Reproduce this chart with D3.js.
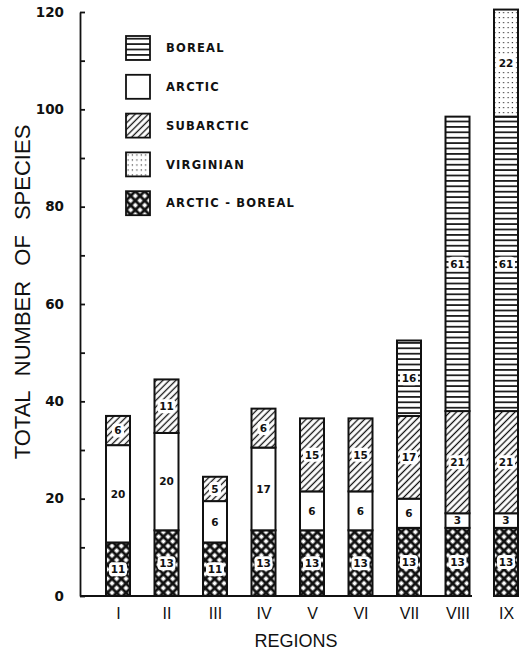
<!DOCTYPE html>
<html>
<head>
<meta charset="utf-8">
<script src="https://cdn.jsdelivr.net/npm/d3@7"></script>
<style>
  body { margin: 0; background: #fff; }
  svg { display: block; }
  .axis text { font-family: 'DejaVu Sans', sans-serif; font-weight: bold; font-size: 13.5px; fill: #111; }
  .axis--x text { font-family: 'Liberation Sans', Arial, sans-serif; font-weight: normal; font-size: 16px; }
  .seg-label { font-family: 'DejaVu Sans', sans-serif; font-weight: bold; font-size: 10.5px; fill: #111; }
  .legend text { font-family: 'DejaVu Sans', sans-serif; font-weight: bold; font-size: 11.5px; letter-spacing: 1.2px; fill: #111; }
</style>
</head>
<body>
<div id="chart"></div>
<script>
// regions along the coast
var regions = ['I', 'II', 'III', 'IV', 'V', 'VI', 'VII', 'VIII', 'IX'];

// segment heights as drawn (bottom to top)
var arcticBoreal = [11, 13.5, 11, 13.5, 13.5, 13.5, 14, 14, 14];
var arctic = [20, 20, 8.5, 17, 8, 8, 6, 3, 3];
var subarctic = [6, 11, 5, 8, 15, 15, 17, 21, 21];
var boreal = [0, 0, 0, 0, 0, 0, 15.5, 60.5, 60.5];
var virginian = [0, 0, 0, 0, 0, 0, 0, 0, 22];

// numbers printed inside the segments
var arcticBorealLabels = [11, 13, 11, 13, 13, 13, 13, 13, 13];
var arcticLabels = [20, 20, 6, 17, 6, 6, 6, 3, 3];
var subarcticLabels = [6, 11, 5, 6, 15, 15, 17, 21, 21];
var borealLabels = [null, null, null, null, null, null, 16, 61, 61];
var virginianLabels = [null, null, null, null, null, null, null, null, 22];

var yTicks = [0, 10, 20, 30, 40, 50, 60, 70, 80, 90, 100, 110, 120];

var keys = ['arcticBoreal', 'arctic', 'subarctic', 'boreal', 'virginian'];
var legendKeys = ['boreal', 'arctic', 'subarctic', 'virginian', 'arcticBoreal'];
var legendNames = {
  boreal: 'BOREAL',
  arctic: 'ARCTIC',
  subarctic: 'SUBARCTIC',
  virginian: 'VIRGINIAN',
  arcticBoreal: 'ARCTIC - BOREAL'
};
var labelsByKey = {
  arcticBoreal: arcticBorealLabels,
  arctic: arcticLabels,
  subarctic: subarcticLabels,
  boreal: borealLabels,
  virginian: virginianLabels
};

var table = regions.map(function (r, i) {
  return {
    region: r,
    arcticBoreal: arcticBoreal[i],
    arctic: arctic[i],
    subarctic: subarctic[i],
    boreal: boreal[i],
    virginian: virginian[i]
  };
});

var svgWidth = 519;
var svgHeight = 660;
var barWidth = 24;

var svg = d3.select('#chart').append('svg')
  .attr('width', svgWidth)
  .attr('height', svgHeight);

// fill patterns
var defs = svg.append('defs');

var pBoreal = defs.append('pattern')
  .attr('id', 'p-boreal')
  .attr('patternUnits', 'userSpaceOnUse')
  .attr('width', 10)
  .attr('height', 5.4);
pBoreal.append('rect').attr('width', 10).attr('height', 5.4).attr('fill', '#fff');
pBoreal.append('line')
  .attr('x1', 0).attr('x2', 10).attr('y1', 2.7).attr('y2', 2.7)
  .attr('stroke', '#111').attr('stroke-width', 1.7);

var pSub = defs.append('pattern')
  .attr('id', 'p-subarctic')
  .attr('patternUnits', 'userSpaceOnUse')
  .attr('width', 4.6)
  .attr('height', 10)
  .attr('patternTransform', 'rotate(45)');
pSub.append('rect').attr('width', 4.6).attr('height', 10).attr('fill', '#fff');
pSub.append('line')
  .attr('x1', 2.3).attr('x2', 2.3).attr('y1', 0).attr('y2', 10)
  .attr('stroke', '#111').attr('stroke-width', 1.3);

var pVirg = defs.append('pattern')
  .attr('id', 'p-virginian')
  .attr('patternUnits', 'userSpaceOnUse')
  .attr('width', 4.4)
  .attr('height', 5);
pVirg.append('rect').attr('width', 4.4).attr('height', 5).attr('fill', '#fff');
pVirg.append('rect')
  .attr('x', 1.5).attr('y', 2).attr('width', 1.2).attr('height', 1.2)
  .attr('fill', '#333');

var pAB = defs.append('pattern')
  .attr('id', 'p-arcticBoreal')
  .attr('patternUnits', 'userSpaceOnUse')
  .attr('width', 6.6)
  .attr('height', 6.6)
  .attr('patternTransform', 'rotate(45)');
pAB.append('rect').attr('width', 6.6).attr('height', 6.6).attr('fill', '#fff');
pAB.append('path')
  .attr('d', 'M0,0H6.6M0,6.6H6.6M0,0V6.6M6.6,0V6.6')
  .attr('stroke', '#111').attr('stroke-width', 2.8);

var fills = {
  boreal: 'url(#p-boreal)',
  arctic: '#fff',
  subarctic: 'url(#p-subarctic)',
  virginian: 'url(#p-virginian)',
  arcticBoreal: 'url(#p-arcticBoreal)'
};

var xScale = d3.scalePoint()
  .domain(regions)
  .range([118, 506]);
var yScale = d3.scaleLinear()
  .domain([0, 120])
  .range([596, 12]);

var stacked = d3.stack().keys(keys)(table);

// bars
var layers = svg.append('g').attr('class', 'bars')
  .selectAll('g')
  .data(stacked)
  .enter().append('g');

layers.selectAll('rect')
  .data(function (d) {
    return d.map(function (p, i) { return { key: d.key, p: p, i: i }; })
      .filter(function (o) { return o.p[1] - o.p[0] > 0; });
  })
  .enter().append('rect')
  .attr('x', function (o) { return xScale(regions[o.i]) - barWidth / 2; })
  .attr('y', function (o) { return yScale(o.p[1]); })
  .attr('width', barWidth)
  .attr('height', function (o) { return yScale(o.p[0]) - yScale(o.p[1]); })
  .attr('fill', function (o) { return fills[o.key]; })
  .attr('stroke', '#111')
  .attr('stroke-width', 2);

// segment numbers
var labelData = [];
stacked.forEach(function (layer) {
  layer.forEach(function (p, i) {
    var lab = labelsByKey[layer.key][i];
    if (lab !== null && p[1] - p[0] > 0) {
      labelData.push({ key: layer.key, text: String(lab), i: i, mid: (p[0] + p[1]) / 2 });
    }
  });
});

var labels = svg.append('g').attr('class', 'seg-labels')
  .selectAll('g')
  .data(labelData)
  .enter().append('g')
  .attr('transform', function (d) {
    return 'translate(' + xScale(regions[d.i]) + ',' + yScale(d.mid) + ')';
  });

labels.filter(function (d) { return d.key !== 'arctic'; })
  .append('rect')
  .attr('x', function (d) { return d.text.length > 1 ? -9 : -6; })
  .attr('y', -7)
  .attr('width', function (d) { return d.text.length > 1 ? 18 : 12; })
  .attr('height', 14)
  .attr('rx', 4)
  .attr('fill', '#fff');

labels.append('text')
  .attr('class', 'seg-label')
  .attr('text-anchor', 'middle')
  .attr('dy', '0.36em')
  .text(function (d) { return d.text; });

// y axis
var yAxis = d3.axisLeft(yScale)
  .tickValues(yTicks)
  .tickSizeInner(-5)
  .tickSizeOuter(0)
  .tickPadding(16)
  .tickFormat(function (d) { return d % 20 === 0 ? d : ''; });

svg.append('g')
  .attr('class', 'axis axis--y')
  .attr('transform', 'translate(80, 0)')
  .call(yAxis)
  .call(function (g) {
    g.selectAll('path, line').attr('stroke', '#111').attr('stroke-width', 1.8);
  });

// x axis
var xAxis = d3.axisBottom(xScale)
  .tickSize(0)
  .tickPadding(12);

svg.append('g')
  .attr('class', 'axis axis--x')
  .attr('transform', 'translate(0, 596)')
  .call(xAxis)
  .call(function (g) { g.select('.domain').remove(); });

svg.append('line')
  .attr('x1', 80).attr('x2', 472)
  .attr('y1', 596).attr('y2', 596)
  .attr('stroke', '#111')
  .attr('stroke-width', 1.8);

// axis titles
svg.append('text')
  .attr('transform', 'translate(30, 292) rotate(-90)')
  .attr('text-anchor', 'middle')
  .style('font-family', "'Liberation Sans', Arial, sans-serif")
  .style('font-size', '22px')
  .style('word-spacing', '9px')
  .style('fill', '#111')
  .text('TOTAL NUMBER OF SPECIES');

svg.append('text')
  .attr('x', 296)
  .attr('y', 647)
  .attr('text-anchor', 'middle')
  .style('font-family', "'Liberation Sans', Arial, sans-serif")
  .style('font-size', '18px')
  .style('fill', '#111')
  .text('REGIONS');

// legend
var legend = svg.append('g').attr('class', 'legend')
  .selectAll('g')
  .data(legendKeys)
  .enter().append('g')
  .attr('transform', function (d, i) { return 'translate(126, ' + (36 + i * 38.8) + ')'; });

legend.append('rect')
  .attr('width', 24)
  .attr('height', 24)
  .attr('fill', function (d) { return fills[d]; })
  .attr('stroke', '#111')
  .attr('stroke-width', 1.8);

legend.append('text')
  .attr('x', 40)
  .attr('y', 12)
  .attr('dy', '0.36em')
  .text(function (d) { return legendNames[d]; });
</script>
</body>
</html>
